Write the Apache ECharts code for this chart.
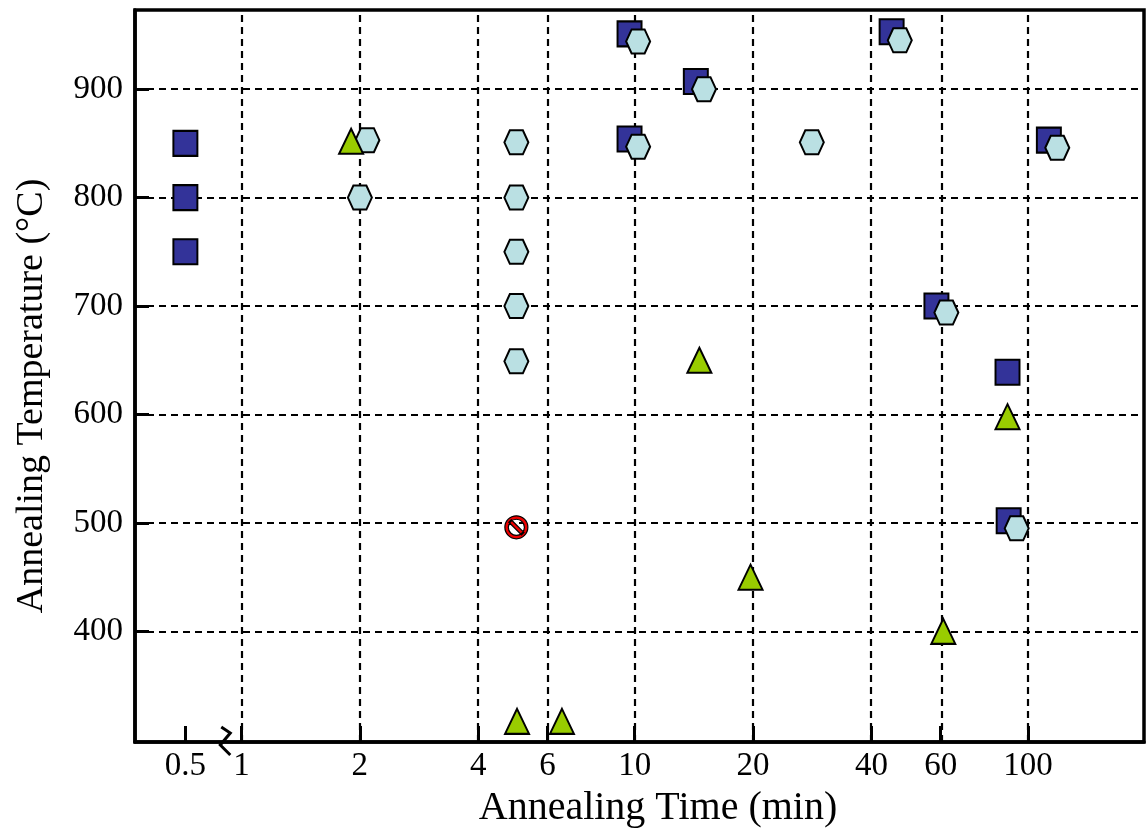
<!DOCTYPE html>
<html>
<head>
<meta charset="UTF-8">
<title>Annealing Time vs Temperature</title>
<script src="https://cdn.jsdelivr.net/npm/echarts@6/dist/echarts.min.js"></script>
<style>
  html, body { margin: 0; padding: 0; background: #fff; }
  #main { width: 1147px; height: 833px; }
</style>
</head>
<body>
<div id="main"></div>
<script>
// axis ticks
var timeTicks = [0.5, 1, 2, 4, 6, 10, 20, 40, 60, 100];
var gridTimes = [1, 2, 4, 6, 10, 20, 40, 60, 100];
var tempTicks = [400, 500, 600, 700, 800, 900];

// navy squares: time (min), temperature (°C)
var sqTime = [0.5, 0.5, 0.5, 9.7, 9.7, 14.3, 45, 58.5, 88.7, 89.3, 113];
var sqTemp = [850, 800, 750, 951, 854, 907, 953, 700, 639, 502, 853];

// light blue hexagons
var hexTime = [2.09, 2, 5, 5, 5, 5, 5, 10.2, 10.2, 15, 28.2, 47.2, 62, 93.6, 118.7];
var hexTemp = [853, 800, 851, 800, 750, 700, 649, 944, 847, 900, 851, 945, 694, 495, 846];

// green triangles
var triTime = [1.9, 5.02, 6.53, 14.6, 19.7, 60.9, 88.7];
var triTemp = [852, 317, 317, 650, 450, 400, 598];

// red "no" marker
var noTime = [5];
var noTemp = [496];

// 0.5 min sits left of the axis break
var BREAK_AT = 0.72;
function tx(t) { return Math.log10(t < 1 ? BREAK_AT : t); }
function pts(ts, vs) {
  var out = [];
  for (var i = 0; i < ts.length; i++) out.push([tx(ts[i]), vs[i]]);
  return out;
}

var tickPos = timeTicks.map(tx);
var font = 'Liberation Serif';
var hexPath = 'path://M0,12 L5.5,0 L18.5,0 L24,12 L18.5,24 L5.5,24 Z';
var noPath = 'path://M2,12 A10,10 0 1,1 22,12 A10,10 0 1,1 2,12 Z M5,12 A7,7 0 1,0 19,12 A7,7 0 1,0 5,12 Z M7.56,5.44 L18.56,16.44 L16.44,18.56 L5.44,7.56 Z';

var chart = echarts.init(document.getElementById('main'));
chart.setOption({
  animation: false,
  grid: {
    left: 135, top: 10, right: 3, bottom: 91,
    show: true, borderColor: '#000', borderWidth: 3.5
  },
  xAxis: {
    type: 'value',
    min: -0.2708, max: 2.295,
    name: 'Annealing Time (min)',
    nameLocation: 'middle',
    nameGap: 46,
    nameTextStyle: { fontFamily: font, fontSize: 40, color: '#000', padding: [0, 0, 0, 37] },
    axisLine: { onZero: false, lineStyle: { color: '#000', width: 3.5 } },
    axisTick: { inside: true, length: 16, lineStyle: { color: '#000', width: 3 }, customValues: tickPos },
    axisLabel: {
      customValues: tickPos, margin: 8,
      fontFamily: font, fontSize: 33, color: '#000',
      formatter: function (v) {
        for (var i = 0; i < tickPos.length; i++) {
          if (Math.abs(tickPos[i] - v) < 1e-6) return String(timeTicks[i]);
        }
        return '';
      }
    },
    splitLine: { show: false }
  },
  yAxis: {
    type: 'value',
    min: 298, max: 973,
    name: 'Annealing Temperature (°C)',
    nameLocation: 'middle',
    nameGap: 84,
    nameTextStyle: { fontFamily: font, fontSize: 38, color: '#000', padding: [0, 40, 0, 0] },
    axisLine: { onZero: false, lineStyle: { color: '#000', width: 3.5 } },
    axisTick: { inside: true, length: 14, lineStyle: { color: '#000', width: 3 }, customValues: tempTicks },
    axisLabel: { customValues: tempTicks, margin: 12, fontFamily: font, fontSize: 33, color: '#000' },
    splitLine: { show: false }
  },
  series: [
    {
      type: 'scatter', data: [], silent: true, z: 1,
      markLine: {
        z: 1, silent: true, symbol: ['none', 'none'], label: { show: false },
        lineStyle: { type: [7, 5], color: '#000', width: 2.2 },
        data: gridTimes.map(function (t) { return { xAxis: tx(t) }; })
          .concat(tempTicks.map(function (v) { return { yAxis: v }; }))
      }
    },
    {
      type: 'scatter', z: 2, symbol: 'rect', symbolSize: [24, 25],
      itemStyle: { color: '#333399', borderColor: '#000', borderWidth: 2, opacity: 1 },
      data: pts(sqTime, sqTemp)
    },
    {
      type: 'scatter', z: 3, symbol: hexPath, symbolSize: [24, 24],
      itemStyle: { color: '#bae0e3', borderColor: '#000', borderWidth: 2, opacity: 1 },
      data: pts(hexTime, hexTemp)
    },
    {
      type: 'scatter', z: 4, symbol: 'triangle', symbolSize: [24, 25],
      itemStyle: { color: '#99cc00', borderColor: '#000', borderWidth: 2, opacity: 1 },
      data: pts(triTime, triTemp)
    },
    {
      type: 'scatter', z: 5, symbol: noPath, symbolSize: [23, 23],
      itemStyle: { color: '#ee0000', borderColor: '#000', borderWidth: 1.2, opacity: 1 },
      data: pts(noTime, noTemp)
    }
  ]
});

// axis-break squiggle between 0.5 and 1
var p0 = chart.convertToPixel({ gridIndex: 0 }, [tx(0.5), 298]);
var p1 = chart.convertToPixel({ gridIndex: 0 }, [tx(1), 298]);
var bx = p0[0] + (p1[0] - p0[0]) * 0.72;
var by = p0[1];
chart.setOption({
  graphic: [{
    type: 'polyline', z: 100,
    shape: { points: [[bx - 4.5, by - 15], [bx + 4.5, by - 9], [bx - 5.5, by + 3], [bx + 4.5, by + 13]] },
    style: { stroke: '#000', lineWidth: 3, fill: null }
  }]
});
</script>
</body>
</html>
